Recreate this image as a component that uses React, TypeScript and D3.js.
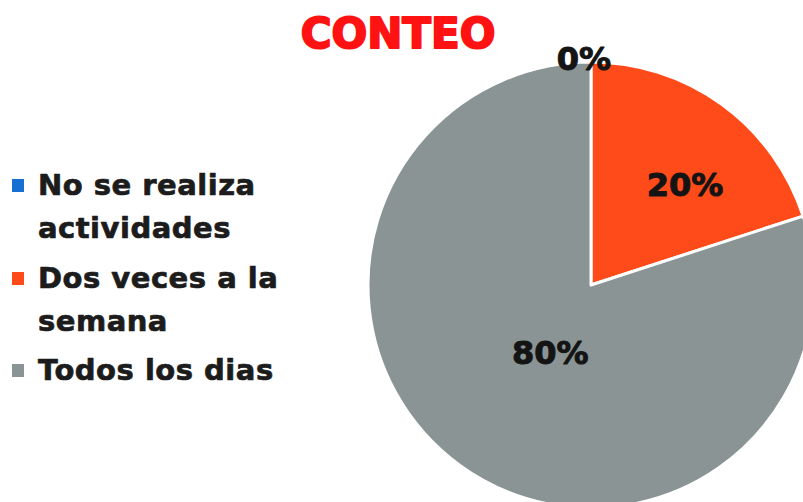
import React from "react";
import * as d3 from "d3";

const categories = ["No se realiza actividades", "Dos veces a la semana", "Todos los dias"];
const legendLines = [["No se realiza", "actividades"], ["Dos veces a la", "semana"], ["Todos los dias"]];
const values = [0, 20, 80];
const labels = ["0%", "20%", "80%"];
const colors = ["#1670D2", "#FF4A1A", "#8A9495"];
const title = "CONTEO";

export default function App() {
  const W = 803, H = 502;
  const cx = 591, cy = 285, r = 223;
  const pie = d3.pie<number>().sort(null).value((d) => d)(values);
  const arc = d3.arc<d3.PieArcDatum<number>>().innerRadius(0).outerRadius(r);
  const font = "'DejaVu Sans', Verdana, sans-serif";

  const labelPos = (i: number) => {
    const p = pie[i];
    const mid = (p.startAngle + p.endAngle) / 2;
    if (values[i] === 0) {
      return [Math.sin(mid) * r - 7, -Math.cos(mid) * r + 8];
    }
    const lr = values[i] < 50 ? r * 0.62 : r * 0.35;
    const a = values[i] < 50 ? mid + 0.12 : mid - 0.08;
    return [Math.sin(a) * lr, -Math.cos(a) * lr + 12];
  };

  const lineH = 44;
  const groupStart = [195, 288, 380];

  return (
    <svg width={W} height={H} style={{ position: "absolute", left: 0, top: 0, background: "#fff" }}>
      <text x={398} y={48} textAnchor="middle" fontFamily={font} fontWeight="bold" fontSize={42}
        fill="#FF1212" stroke="#FF1212" strokeWidth={2} strokeLinejoin="round">{title}</text>
      <g transform={`translate(${cx},${cy})`}>
        {pie.map((p, i) => (
          <path key={categories[i]} d={arc(p) || ""} fill={colors[i]} stroke="#fff" strokeWidth={values[i] === 0 ? 0 : 3}
            strokeLinejoin="round" />
        ))}
        {pie.map((p, i) => {
          const [x, y] = labelPos(i);
          return (
            <text key={"l" + i} x={x} y={y} textAnchor="middle" fontFamily={font} fontWeight="bold" fontSize={32}
              fill="#141414" stroke="#141414" strokeWidth={1} strokeLinejoin="round">{labels[i]}</text>
          );
        })}
      </g>
      {legendLines.map((lines, i) => (
        <g key={"lg" + i}>
          <rect x={12} y={groupStart[i] - 16} width={12} height={13} fill={colors[i]} />
          {lines.map((t, j) => (
            <text key={j} x={38} y={groupStart[i] + j * lineH - (j > 0 ? 1 : 0)} fontFamily={font} fontWeight="bold"
              fontSize={29} fill="#1c1c1c" stroke="#1c1c1c" strokeWidth={0.7} strokeLinejoin="round"
              letterSpacing={0.5}>{t}</text>
          ))}
        </g>
      ))}
    </svg>
  );
}
